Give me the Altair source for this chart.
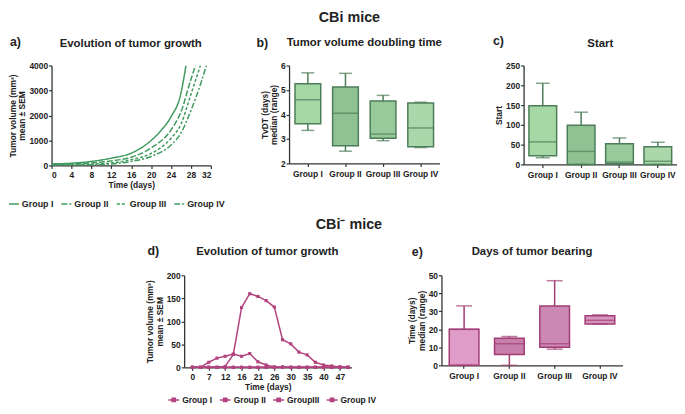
import altair as alt
import pandas as pd

FONT = "Liberation Sans"
GREEN = "#3f9a5e"
GREEN_EDGE = "#4d7d58"
PINK = "#b2437f"
PINK_EDGE = "#a23d74"

groups = ["Group I", "Group II", "Group III", "Group IV"]

# ---------- a) CBi tumor growth (mean volume, mm3) ----------
a_days_1 = [0, 4, 8, 12, 16, 20, 22, 24, 26, 27]
a_vol_1 = [60, 90, 160, 290, 490, 1000, 1400, 1950, 2900, 4000]
a_days_2 = [0, 4, 8, 12, 16, 20, 24, 26, 28, 28.9]
a_vol_2 = [40, 60, 100, 180, 330, 700, 1420, 2150, 3450, 4000]
a_days_3 = [0, 4, 8, 12, 16, 20, 24, 26, 28, 29.9]
a_vol_3 = [20, 30, 50, 100, 230, 480, 1090, 1650, 2850, 4000]
a_days_4 = [0, 4, 8, 12, 16, 20, 24, 26, 28, 30, 31.1]
a_vol_4 = [10, 15, 25, 60, 160, 360, 820, 1300, 2200, 3300, 4000]

# ---------- b) TvDT box stats ----------
b_min = [3.35, 2.5, 2.93, 2.65]
b_q1 = [3.62, 2.72, 3.03, 2.68]
b_med = [4.6, 4.05, 3.2, 3.45]
b_q3 = [5.25, 5.12, 4.55, 4.47]
b_max = [5.7, 5.68, 4.78, 4.5]

# ---------- c) Start box stats ----------
c_min = [17, 0, 0, 0]
c_q1 = [22, 0, 2, 0]
c_med = [57, 33, 6, 8]
c_q3 = [148, 99, 52, 45]
c_max = [205, 132, 67, 56]

# ---------- d) CBi- tumor growth ----------
d_groups = ["Group I", "Group II", "GroupIII", "Group IV"]
d_tick_labels = ["0", "7", "12", "16", "21", "26", "30", "35", "40", "47"]
d_I = [0, 0, 0, 0, 2, 28, 130, 160, 154, 145, 131, 60, 51, 33, 27, 11, 5, 3, 1, 0]
d_II = [0, 0, 11, 20, 24, 29, 24, 30, 12, 5, 1, 1, 0, 0, 0, 0, 0, 0, 0, 0]
d_III = [0, 0, 0, 0, 0, 0, 0, 0, 0, 0, 0, 0, 0, 0, 0, 0, 0, 0, 0, 0]
d_IV = [0, 0, 0, 0, 0, 0, 0, 0, 0, 0, 0, 0, 0, 0, 0, 0, 0, 0, 0, 0]

# ---------- e) Days of tumor bearing ----------
e_min = [0, 0, 9, 23]
e_q1 = [0, 6, 10, 23]
e_med = [20, 12, 12, 25]
e_q3 = [20, 15, 33, 27.5]
e_max = [33, 16, 47, 28]

green_fills = ["#a6d8a6", "#8fc192", "#98c99b", "#aad8aa"]
pink_fills = ["#e09cc8", "#c87eab", "#cc88b4", "#d796c2"]


def label_layer(txt, lx, ly):
    return alt.Chart(pd.DataFrame({"t": [txt]})).mark_text(
        align="left", baseline="middle", font=FONT, fontSize=12.5, fontWeight="bold", color="#222"
    ).encode(x=alt.value(lx), y=alt.value(ly), text="t:N")


def title_layer(txt, cx, ty):
    return alt.Chart(pd.DataFrame({"t": [txt]})).mark_text(
        align="center", baseline="middle", font=FONT, fontSize=11.5, fontWeight="bold", color="#222"
    ).encode(x=alt.value(cx), y=alt.value(ty), text="t:N")


def spacer(w):
    return alt.Chart(pd.DataFrame({"v": [0]})).mark_point(opacity=0, size=1).encode(
        x=alt.X("v:Q", axis=None), y=alt.Y("v:Q", axis=None)).properties(width=w, height=1)


def box_panel(mn, q1, med, q3, mx, fills, edge, ydom, yvals, ytitle, title,
              label, w, h, boxw, capw, lx, ly, ty):
    df = pd.DataFrame({"group": groups, "lo": mn, "q1": q1, "med": med, "q3": q3, "hi": mx})
    x = alt.X("group:N", sort=groups, title=None,
              axis=alt.Axis(labelAngle=0, labelPadding=3, tickSize=3))
    yscale = alt.Scale(domain=ydom, nice=False)
    yaxis = alt.Axis(values=yvals, title=ytitle, format="d", labelOverlap=False)

    def Y(field):
        return alt.Y(field, scale=yscale, axis=yaxis, title=ytitle)

    base = alt.Chart(df).encode(x=x)
    whisk = base.mark_rule(color=edge, strokeWidth=1.5).encode(y=Y("lo:Q"), y2="hi:Q")
    box = base.mark_bar(size=boxw, stroke=edge, strokeWidth=1.5).encode(
        y=Y("q1:Q"), y2="q3:Q",
        fill=alt.Fill("group:N", scale=alt.Scale(domain=groups, range=fills), legend=None))
    medl = base.mark_tick(color=edge, size=boxw, thickness=1.5).encode(y=Y("med:Q"))
    cap_lo = base.mark_tick(color=edge, size=capw, thickness=1.5).encode(y=Y("lo:Q"))
    cap_hi = base.mark_tick(color=edge, size=capw, thickness=1.5).encode(y=Y("hi:Q"))
    return alt.layer(whisk, box, medl, cap_lo, cap_hi, label_layer(label, lx, ly),
                     title_layer(title, w / 2, ty)).properties(width=w, height=h)


# ----- panel a -----
rows = []
for g, ds, vs in zip(groups, [a_days_1, a_days_2, a_days_3, a_days_4],
                     [a_vol_1, a_vol_2, a_vol_3, a_vol_4]):
    for d, v in zip(ds, vs):
        rows.append({"group": g, "day": d, "vol": v})
a_df = pd.DataFrame(rows)

a_lines = alt.Chart(a_df).mark_line(color=GREEN, strokeWidth=1.5, interpolate="monotone", clip=True).encode(
    x=alt.X("day:Q", scale=alt.Scale(domain=[0, 32], nice=False),
            axis=alt.Axis(values=list(range(0, 33, 4)), title="Time (days)", titlePadding=2,
                          labelOverlap=False)),
    y=alt.Y("vol:Q", scale=alt.Scale(domain=[0, 4000], nice=False),
            axis=alt.Axis(values=[0, 1000, 2000, 3000, 4000], format="d", labelOverlap=False,
                          title=["Tumor volume (mm³)", "mean ± SEM"])),
    strokeDash=alt.StrokeDash(
        "group:N", sort=groups,
        scale=alt.Scale(domain=groups, range=[[1, 0], [6, 2], [3, 2], [6, 2, 2, 2]]),
        legend=alt.Legend(title=None, orient="none", legendX=-44, legendY=134,
                          direction="horizontal", columns=4, symbolType="stroke",
                          symbolStrokeColor=GREEN, symbolStrokeWidth=1.5, symbolSize=100,
                          columnPadding=5, labelOffset=2)),
    detail="group:N",
)
panel_a = alt.layer(a_lines, label_layer("a)", -42, -24),
                    title_layer("Evolution of tumor growth", 80, -22)).properties(width=161, height=101)

panel_b = box_panel(b_min, b_q1, b_med, b_q3, b_max, green_fills, GREEN_EDGE, [2, 6],
                    [2, 3, 4, 5, 6], ["TvDT (days)", "median (range)"],
                    "Tumor volume doubling time", "b)", 152, 99, 26, 13, -33, -23, -23)
panel_c = box_panel(c_min, c_q1, c_med, c_q3, c_max, green_fills, GREEN_EDGE, [0, 250],
                    [0, 50, 100, 150, 200, 250], "Start", "Start", "c)", 155, 100, 28, 14, -31, -25, -22)

# ----- panel d -----
rows = []
for g, vs in zip(d_groups, [d_I, d_II, d_III, d_IV]):
    for i, v in enumerate(vs):
        rows.append({"group": g, "idx": i, "vol": v})
d_df = pd.DataFrame(rows)
lab_arr = "[" + ",".join("'%s'" % s for s in d_tick_labels) + "]"
d_x = alt.X("idx:Q", scale=alt.Scale(domain=[-1, 19.4], nice=False),
            axis=alt.Axis(values=list(range(0, 19, 2)), title="Time (days)", titlePadding=2,
                          labelOverlap=False, labelExpr=lab_arr + "[round(datum.value/2)]"))
d_y = alt.Y("vol:Q", scale=alt.Scale(domain=[0, 200], nice=False),
            axis=alt.Axis(values=[0, 50, 100, 150, 200], labelOverlap=False,
                          title=["Tumor volume (mm³)", "mean ± SEM"]))
d_color = alt.Color("group:N", sort=d_groups,
                    scale=alt.Scale(domain=d_groups, range=[PINK] * 4),
                    legend=alt.Legend(title=None, orient="none", legendX=-17, legendY=119,
                                      direction="horizontal", columns=4,
                                      symbolType="M-1,0H1M-0.3,-0.3H0.3V0.3H-0.3Z",
                                      symbolStrokeWidth=1.5, symbolSize=120, labelFontSize=8.5,
                                      symbolFillColor=PINK, columnPadding=4, labelOffset=2))
d_lines = alt.Chart(d_df).mark_line(strokeWidth=1.5).encode(x=d_x, y=d_y, color=d_color, detail="group:N")
d_pts = alt.Chart(d_df).mark_point(filled=True, size=10, shape="square", opacity=1).encode(
    x=d_x, y=d_y, color=alt.Color("group:N", sort=d_groups,
                                  scale=alt.Scale(domain=d_groups, range=[PINK] * 4), legend=None))
panel_d = alt.layer(d_lines, d_pts, label_layer("d)", -37, -25),
                    title_layer("Evolution of tumor growth", 84, -24)).properties(width=169, height=93)

panel_e = box_panel(e_min, e_q1, e_med, e_q3, e_max, pink_fills, PINK_EDGE, [0, 50],
                    [0, 10, 20, 30, 40, 50], ["Time (days)", "median (range)"],
                    "Days of tumor bearing", "e)", 183, 91, 30, 16, -30, -23, -24)

top = alt.hconcat(panel_a, spacer(32), panel_b, spacer(51), panel_c, spacing=0,
                  title=alt.TitleParams("CBi mice", fontSize=14.5, anchor="middle", offset=9, dx=7)
                  ).resolve_scale(strokeDash="independent", fill="independent", color="independent")
bottom = alt.hconcat(spacer(95), panel_d, spacer(32), panel_e, spacing=0,
                     title=alt.TitleParams("CBi⁻ mice", fontSize=14.5, anchor="middle", offset=12, dx=12)
                     ).resolve_scale(color="independent", fill="independent")

chart = alt.vconcat(top, bottom, spacing=8).resolve_scale(
    color="independent", fill="independent"
).properties(padding=0).configure_view(
    stroke=None
).configure_axis(
    labelFont=FONT, titleFont=FONT, labelFontWeight="bold", titleFontWeight="bold",
    labelFontSize=8.5, titleFontSize=8.5, domainColor="#333", tickColor="#333",
    domainWidth=1.3, tickWidth=1.2, tickSize=3, grid=False, labelColor="#222", titleColor="#222",
    labelOverlap=False,
).configure_axisY(
    labelPadding=1, titlePadding=2, titleLineHeight=9.5
).configure_title(
    font=FONT, fontSize=11.5, fontWeight="bold", color="#222"
).configure_legend(
    labelFont=FONT, labelFontWeight="bold", labelFontSize=9, labelColor="#222"
).configure_concat(spacing=0)

chart.save("out.html", embed_options={"renderer": "svg", "actions": False})
